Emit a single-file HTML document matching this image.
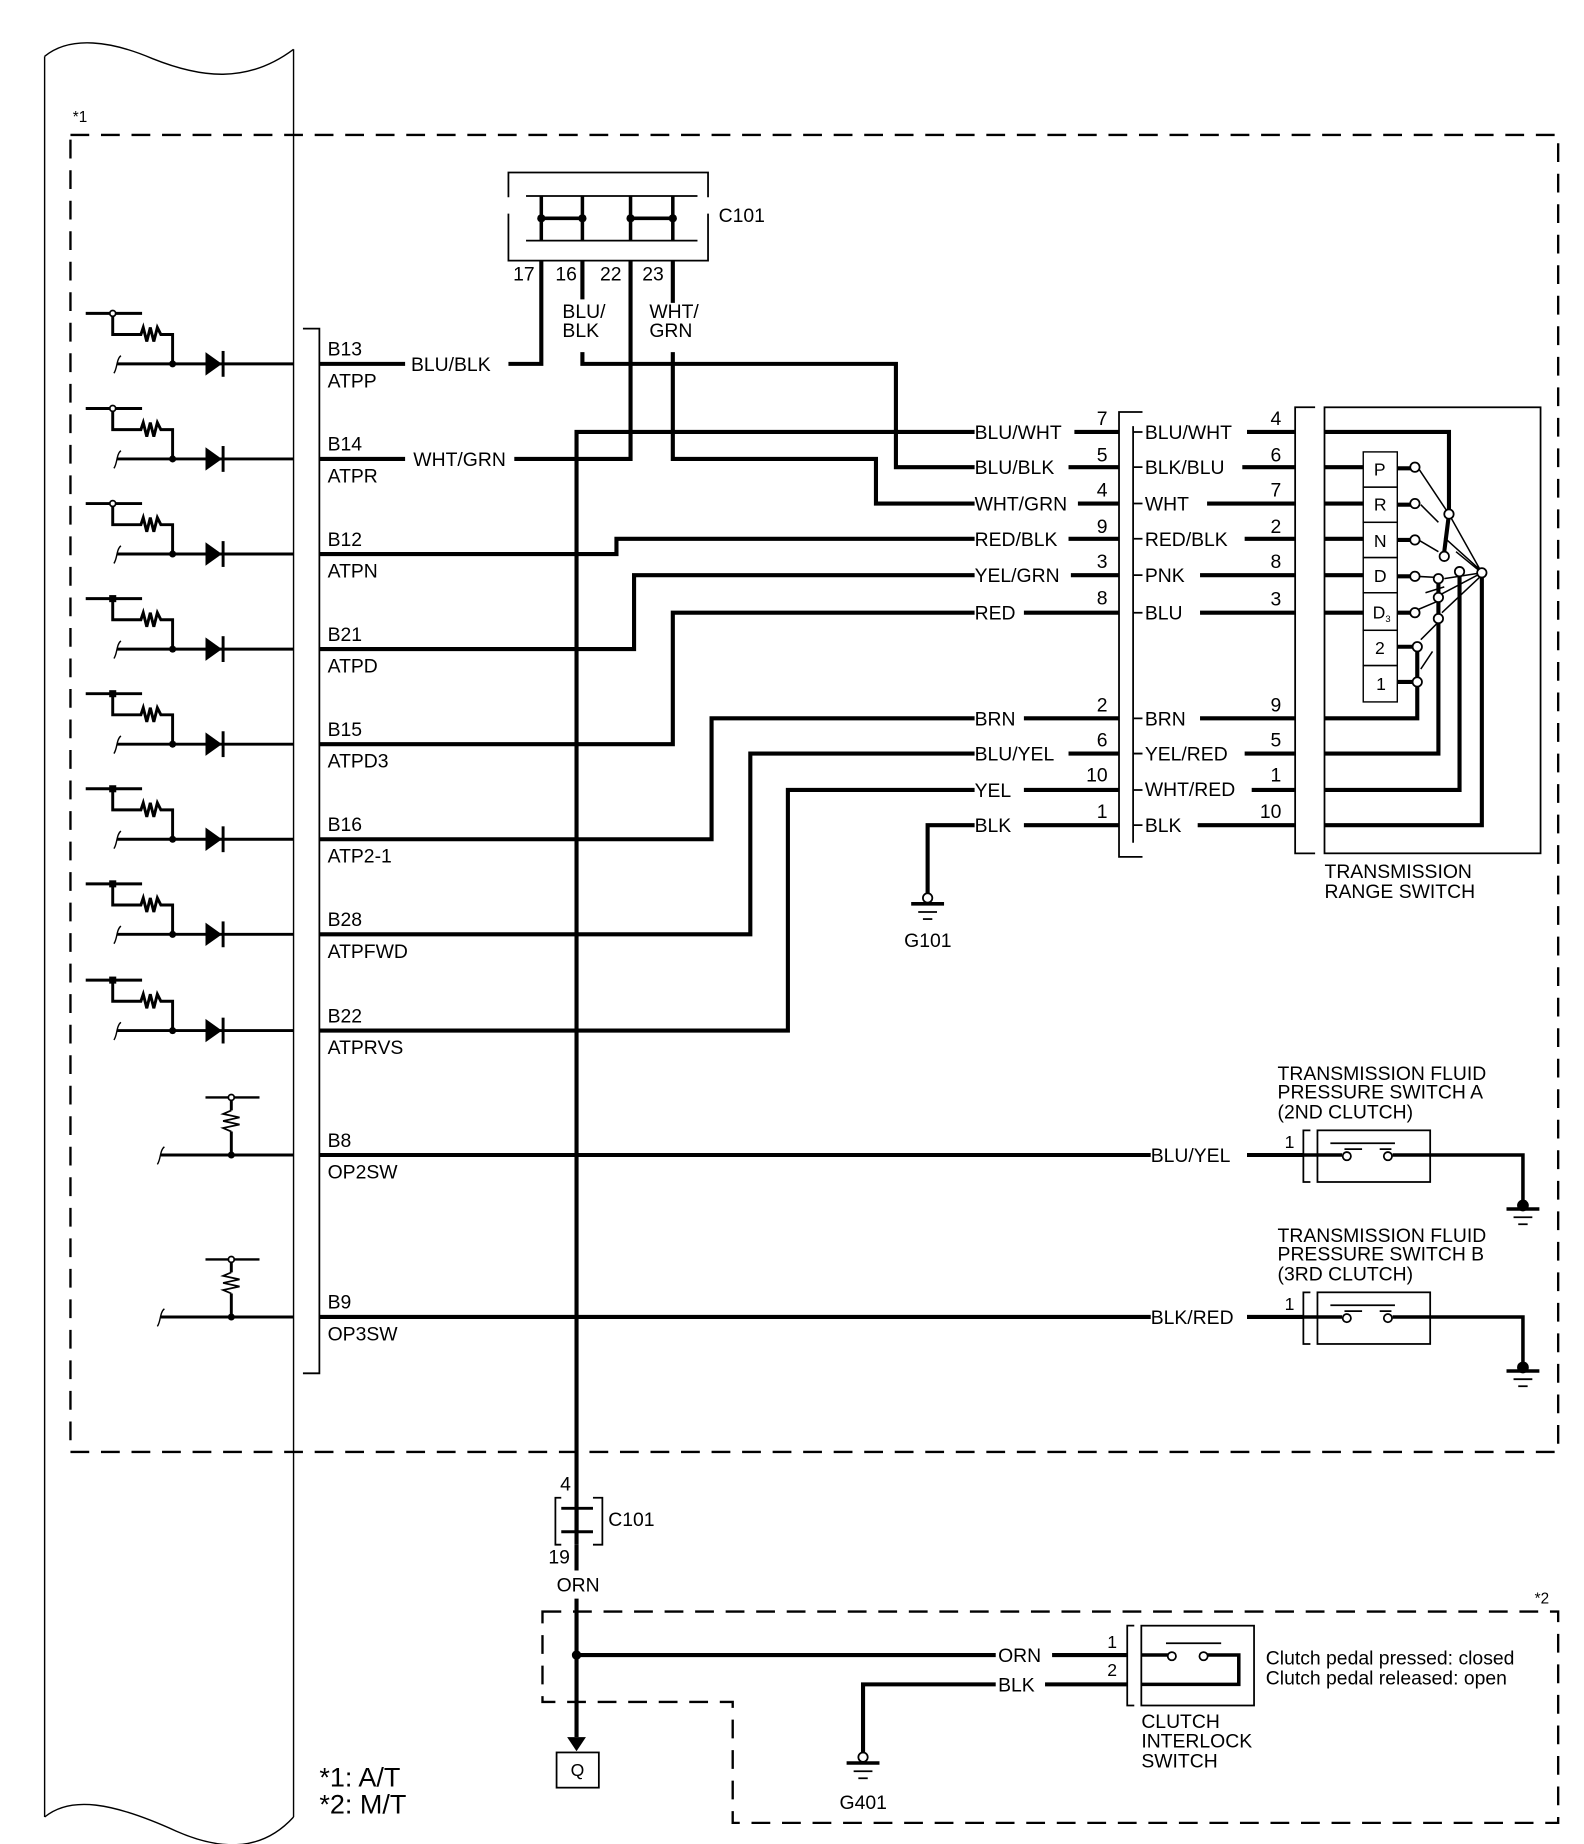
<!DOCTYPE html>
<html><head><meta charset="utf-8"><style>
html,body{margin:0;padding:0;background:#fff}
svg{display:block}
text{font-family:"Liberation Sans",Arial,sans-serif;font-size:16.5px;fill:#000}
.s13{font-size:13px}.s15{font-size:15px}.s23{font-size:23px}
</style></head><body>
<svg width="1584" height="1844" viewBox="0 0 1349 1571" preserveAspectRatio="none" xmlns="http://www.w3.org/2000/svg">
<defs>
<g id="circ" fill="none" stroke="#000">
<path d="M73,-43 H121" stroke-width="2.5"/>
<path d="M96,-43 V-25 H120 L122,-31 L125,-19 L128,-31 L131,-19 L134,-31 L137,-25 H147 V0" stroke-width="2.5"/>
<path d="M100,0 H250" stroke-width="2.5"/>
<path d="M97,8 C100,4 99,-4 103,-7" stroke-width="1.2"/>
<circle cx="147" cy="0" r="3" fill="#000" stroke="none"/>
<polygon points="175,-10 175,10 189,0" fill="#000" stroke="none"/>
<path d="M190,-11 V11" stroke-width="2.5"/>
</g>
<g id="circ2" fill="none" stroke="#000">
<path d="M175,-49 H221" stroke-width="2"/>
<circle cx="197" cy="-49" r="2.5" fill="#fff" stroke-width="1.5"/>
<path d="M197,-46 V-38 M197,-20 V0" stroke-width="2.5"/>
<path d="M197,-38 L190,-35 L204,-32 L190,-29 L204,-26 L190,-23 L197,-20" stroke-width="1.5"/>
<path d="M137,0 H250" stroke-width="2.5"/>
<path d="M134,8 C137,4 136,-4 140,-7" stroke-width="1.2"/>
<circle cx="197" cy="0" r="3" fill="#000" stroke="none"/>
</g>
<g id="gnd" fill="none" stroke="#000">
<path d="M-14,0 H14" stroke-width="3"/><path d="M-8,7 H8" stroke-width="1.5"/><path d="M-4,13 H4" stroke-width="1.5"/>
</g>
</defs>

<path d="M38,48 C60,30 95,35 130,50 C170,66 210,72 250,42" fill="none" stroke="#000" stroke-width="1.2"/>
<path d="M38,48 V1548 M250,42 V1548" fill="none" stroke="#000" stroke-width="1.2"/>
<path d="M38,1548 C60,1530 95,1535 150,1560 C200,1582 230,1570 250,1548" fill="none" stroke="#000" stroke-width="1.2"/>

<rect x="60" y="115" width="1267" height="1122" fill="none" stroke="#000" stroke-width="2" stroke-dasharray="16,10"/>
<text x="62" y="104" class="s13">*1</text>

<path d="M258,280 H272 V1170 H258" fill="none" stroke="#000" stroke-width="1.5"/>

<use href="#circ" transform="translate(0,310)"/>
<use href="#circ" transform="translate(0,391)"/>
<use href="#circ" transform="translate(0,472)"/>
<use href="#circ" transform="translate(0,553)"/>
<use href="#circ" transform="translate(0,634)"/>
<use href="#circ" transform="translate(0,715)"/>
<use href="#circ" transform="translate(0,796)"/>
<use href="#circ" transform="translate(0,878)"/>
<g fill="#fff" stroke="#000" stroke-width="1.5">
<circle cx="96" cy="267" r="2.5"/><circle cx="96" cy="348" r="2.5"/><circle cx="96" cy="429" r="2.5"/>
</g>
<g fill="#000"><rect x="93" y="507" width="6" height="6"/><rect x="93" y="588" width="6" height="6"/><rect x="93" y="669" width="6" height="6"/><rect x="93" y="750" width="6" height="6"/><rect x="93" y="832" width="6" height="6"/></g>
<use href="#circ2" transform="translate(0,984)"/>
<use href="#circ2" transform="translate(0,1122)"/>

<g>
<text x="279" y="303">B13</text><text x="279" y="330">ATPP</text>
<text x="279" y="384">B14</text><text x="279" y="411">ATPR</text>
<text x="279" y="465">B12</text><text x="279" y="492">ATPN</text>
<text x="279" y="546">B21</text><text x="279" y="573">ATPD</text>
<text x="279" y="627">B15</text><text x="279" y="654">ATPD3</text>
<text x="279" y="708">B16</text><text x="279" y="735">ATP2-1</text>
<text x="279" y="789">B28</text><text x="279" y="816">ATPFWD</text>
<text x="279" y="871">B22</text><text x="279" y="898">ATPRVS</text>
<text x="279" y="977">B8</text><text x="279" y="1004">OP2SW</text>
<text x="279" y="1115">B9</text><text x="279" y="1142">OP3SW</text>
</g>

<g fill="none" stroke="#000" stroke-width="1.5">
<path d="M433,168 V147 H603 V168 M433,182 V222 H603 V182"/>
<path d="M448,167 H594 M448,205 H594"/>
</g>
<g stroke="#000" stroke-width="3" fill="none">
<path d="M461,167 V205 M496,167 V205 M537,167 V205 M573,167 V205 M461,186 H496 M537,186 H573"/>
</g>
<g fill="#000"><circle cx="461" cy="186" r="3.5"/><circle cx="496" cy="186" r="3.5"/><circle cx="537" cy="186" r="3.5"/><circle cx="573" cy="186" r="3.5"/></g>
<text x="612" y="189">C101</text>
<text x="437" y="239">17</text><text x="473" y="239">16</text><text x="511" y="239">22</text><text x="547" y="239">23</text>
<text x="479" y="271">BLU/</text><text x="479" y="287">BLK</text>
<text x="553" y="271">WHT/</text><text x="553" y="287">GRN</text>

<g fill="none" stroke="#000" stroke-width="3.5">
<path d="M272,310 H345 M433,310 H461 V222"/>
<path d="M496,222 V255 M496,300 V310 H763 V398 H830"/>
<path d="M272,391 H345 M438,391 H537 V222"/>
<path d="M573,222 V258 M573,300 V391 H746 V429 H830"/>
<path d="M491,1316 V368 H830"/>
<path d="M272,472 H525 V459 H830"/>
<path d="M272,553 H540 V490 H830"/>
<path d="M272,634 H573 V522 H830"/>
<path d="M272,715 H606 V612 H830"/>
<path d="M272,796 H639 V642 H830"/>
<path d="M272,878 H671 V673 H830"/>
<path d="M790,765 V703 H830"/>
<path d="M272,984 H980 M1062,984 H1110"/>
<path d="M272,1122 H980 M1062,1122 H1110"/>
</g>
<text x="350" y="316">BLU/BLK</text>
<text x="352" y="397">WHT/GRN</text>

<circle cx="790" cy="765" r="4" fill="#fff" stroke="#000" stroke-width="1.5"/>
<use href="#gnd" transform="translate(790,770)"/>
<text x="770" y="807">G101</text>

<g>
<text x="830" y="374">BLU/WHT</text><text x="830" y="404">BLU/BLK</text><text x="830" y="435">WHT/GRN</text>
<text x="830" y="465">RED/BLK</text><text x="830" y="496">YEL/GRN</text><text x="830" y="528">RED</text>
<text x="830" y="618">BRN</text><text x="830" y="648">BLU/YEL</text><text x="830" y="679">YEL</text><text x="830" y="709">BLK</text>
<text x="934" y="362">7</text><text x="934" y="393">5</text><text x="934" y="423">4</text><text x="934" y="454">9</text><text x="934" y="484">3</text><text x="934" y="515">8</text>
<text x="934" y="606">2</text><text x="934" y="636">6</text><text x="925" y="666">10</text><text x="934" y="697">1</text>
<text x="975" y="374">BLU/WHT</text><text x="975" y="404">BLK/BLU</text><text x="975" y="435">WHT</text>
<text x="975" y="465">RED/BLK</text><text x="975" y="496">PNK</text><text x="975" y="528">BLU</text>
<text x="975" y="618">BRN</text><text x="975" y="648">YEL/RED</text><text x="975" y="678">WHT/RED</text><text x="975" y="709">BLK</text>
<text x="1082" y="362">4</text><text x="1082" y="393">6</text><text x="1082" y="423">7</text><text x="1082" y="454">2</text><text x="1082" y="484">8</text><text x="1082" y="516">3</text>
<text x="1082" y="606">9</text><text x="1082" y="636">5</text><text x="1082" y="666">1</text><text x="1073" y="697">10</text>
</g>
<g fill="none" stroke="#000" stroke-width="3.5">
<path d="M915,368 H953 M910,398 H953 M918,429 H953 M910,459 H953 M912,490 H953 M872,522 H953 M872,612 H953 M910,642 H953 M872,673 H953 M872,703 H953"/>
<path d="M1062,368 H1103 M1058,398 H1103 M1028,429 H1103 M1060,459 H1103 M1022,490 H1103 M1022,522 H1103 M1022,612 H1103 M1060,642 H1103 M1066,673 H1103 M1020,703 H1103"/>
</g>
<path d="M965,368 H973 M965,398 H973 M965,429 H973 M965,459 H973 M965,490 H973 M965,522 H973 M965,612 H973 M965,642 H973 M965,673 H973 M965,703 H973" stroke="#000" stroke-width="1.5"/>
<path d="M973,351 H953 V730 H973" fill="none" stroke="#000" stroke-width="1.5"/>
<path d="M965,363 V718" fill="none" stroke="#000" stroke-width="1.5"/>
<path d="M1120,347 H1103 V727 H1120" fill="none" stroke="#000" stroke-width="1.5"/>
<rect x="1128" y="347" width="184" height="380" fill="none" stroke="#000" stroke-width="1.5"/>
<text x="1128" y="748">TRANSMISSION</text><text x="1128" y="765">RANGE SWITCH</text>

<g fill="none" stroke="#000" stroke-width="1.2">
<rect x="1161" y="385" width="29" height="30"/><rect x="1161" y="415" width="29" height="30"/><rect x="1161" y="445" width="29" height="30"/>
<rect x="1161" y="475" width="29" height="30"/><rect x="1161" y="505" width="29" height="32"/><rect x="1161" y="537" width="29" height="30"/><rect x="1161" y="567" width="29" height="31"/>
</g>
<g>
<text x="1170" y="405" class="s15">P</text><text x="1170" y="435" class="s15">R</text><text x="1170" y="466" class="s15">N</text><text x="1170" y="496" class="s15">D</text>
<text x="1169" y="527" class="s15">D<tspan style="font-size:8px" dy="3">3</tspan></text><text x="1171" y="557" class="s15">2</text><text x="1172" y="588" class="s15">1</text>
</g>
<g fill="none" stroke="#000" stroke-width="3.5">
<path d="M1128,368 H1234 V438"/>
<path d="M1128,398 H1161 M1128,429 H1161 M1128,459 H1161 M1128,490 H1161 M1128,522 H1161"/>
<path d="M1190,399 H1202 M1190,430 H1202 M1190,460 H1202 M1190,491 H1202 M1190,522 H1202 M1190,551 H1204 M1190,581 H1204"/>
<path d="M1128,612 H1207 V551"/>
<path d="M1128,642 H1225 V493"/>
<path d="M1128,673 H1243 V488"/>
<path d="M1128,703 H1262 V488"/>
<path d="M1234,438 L1230,470"/>
</g>
<g fill="none" stroke="#000" stroke-width="1.3">
<path d="M1206,396 L1234,438 L1262,488 M1210,430 L1225,445 M1208,460 L1225,470 M1206,491 L1225,492 M1230,493 L1262,488 M1206,520 L1225,512 M1226,507 L1262,488 M1210,545 L1225,530 M1228,522 L1262,490 M1210,570 L1220,555 M1230,458 L1260,485 M1240,470 L1262,488 M1214,505 L1230,500"/>
</g>
<g fill="#fff" stroke="#000" stroke-width="1.5">
<circle cx="1205" cy="398" r="4"/><circle cx="1205" cy="429" r="4"/><circle cx="1205" cy="460" r="4"/><circle cx="1205" cy="491" r="4"/>
<circle cx="1205" cy="522" r="4"/><circle cx="1207" cy="551" r="4"/><circle cx="1207" cy="581" r="4"/>
<circle cx="1234" cy="438" r="4"/><circle cx="1230" cy="474" r="4"/><circle cx="1243" cy="487" r="4"/><circle cx="1262" cy="488" r="4"/>
<circle cx="1225" cy="493" r="4"/><circle cx="1225" cy="509" r="4"/><circle cx="1225" cy="527" r="4"/>
</g>

<g>
<text x="1088" y="920">TRANSMISSION FLUID</text><text x="1088" y="936">PRESSURE SWITCH A</text><text x="1088" y="953">(2ND CLUTCH)</text>
<text x="980" y="990">BLU/YEL</text><text x="1094" y="978" class="s15">1</text>
<text x="1088" y="1058">TRANSMISSION FLUID</text><text x="1088" y="1074">PRESSURE SWITCH B</text><text x="1088" y="1091">(3RD CLUTCH)</text>
<text x="980" y="1128">BLK/RED</text><text x="1094" y="1116" class="s15">1</text>
</g>
<g fill="none" stroke="#000" stroke-width="1.5">
<path d="M1116,963 H1110 V1007 H1116"/><rect x="1122" y="963" width="96" height="44"/>
<path d="M1133,974 H1188"/>
<path d="M1116,1101 H1110 V1145 H1116"/><rect x="1122" y="1101" width="96" height="44"/>
<path d="M1133,1112 H1188"/>
</g>
<g fill="none" stroke="#000" stroke-width="3">
<path d="M1110,984 H1143 M1186,984 H1297 V1027"/>
<path d="M1110,1122 H1143 M1186,1122 H1297 V1165"/>
<path d="M1145,979 H1160 M1175,979 H1185 M1145,1117 H1160 M1175,1117 H1185" stroke-width="1.5"/>
</g>
<g fill="#fff" stroke="#000" stroke-width="1.5">
<circle cx="1147" cy="985" r="3.5"/><circle cx="1182" cy="985" r="3.5"/><circle cx="1147" cy="1123" r="3.5"/><circle cx="1182" cy="1123" r="3.5"/>
</g>
<circle cx="1297" cy="1027" r="5" fill="#000"/><use href="#gnd" transform="translate(1297,1030)"/>
<circle cx="1297" cy="1165" r="5" fill="#000"/><use href="#gnd" transform="translate(1297,1168)"/>

<text x="477" y="1270">4</text>
<path d="M478,1276 H473 V1316 H478 M505,1276 H513 V1316 H505" fill="none" stroke="#000" stroke-width="1.5"/>
<path d="M478,1285 H505 M478,1305 H505" fill="none" stroke="#000" stroke-width="2.5"/>
<path d="M491,1285 V1305" stroke="#000" stroke-width="3.5"/>
<text x="518" y="1300">C101</text>
<text x="467" y="1332">19</text>
<path d="M491,1316 V1338 M491,1362 V1480" stroke="#000" stroke-width="3.5" fill="none"/>
<text x="474" y="1356">ORN</text>
<polygon points="483,1480 499,1480 491,1492" fill="#000"/>
<rect x="474" y="1493" width="36" height="30" fill="none" stroke="#000" stroke-width="1.5"/>
<text x="486" y="1513" class="s15">Q</text>

<path d="M462,1373 H1327 V1553 H624 V1450 H462 Z" fill="none" stroke="#000" stroke-width="2" stroke-dasharray="16,10"/>
<text x="1307" y="1366" class="s13">*2</text>

<g fill="none" stroke="#000" stroke-width="3.5">
<path d="M491,1410 H848 M896,1410 H960"/>
<path d="M735,1495 V1435 H848 M890,1435 H960"/>
</g>
<circle cx="491" cy="1410" r="4" fill="#000"/>
<text x="850" y="1416">ORN</text><text x="850" y="1441">BLK</text>
<text x="943" y="1404" class="s15">1</text><text x="943" y="1428" class="s15">2</text>
<path d="M966,1385 H960 V1453 H966" fill="none" stroke="#000" stroke-width="1.5"/>
<rect x="972" y="1385" width="96" height="68" fill="none" stroke="#000" stroke-width="1.5"/>
<path d="M993,1400 H1040" stroke="#000" stroke-width="1.5"/>
<path d="M972,1410 H995 M1028,1410 H1055 V1435 H972" fill="none" stroke="#000" stroke-width="3"/>
<circle cx="998" cy="1411" r="3.5" fill="#fff" stroke="#000" stroke-width="1.5"/>
<circle cx="1025" cy="1411" r="3.5" fill="#fff" stroke="#000" stroke-width="1.5"/>
<text x="1078" y="1418">Clutch pedal pressed: closed</text>
<text x="1078" y="1435">Clutch pedal released: open</text>
<text x="972" y="1472">CLUTCH</text><text x="972" y="1489">INTERLOCK</text><text x="972" y="1506">SWITCH</text>
<circle cx="735" cy="1497" r="4" fill="#fff" stroke="#000" stroke-width="1.5"/>
<use href="#gnd" transform="translate(735,1502)"/>
<text x="715" y="1541">G401</text>

<text x="272" y="1522" class="s23">*1: A/T</text>
<text x="272" y="1545" class="s23">*2: M/T</text>
</svg>
</body></html>
